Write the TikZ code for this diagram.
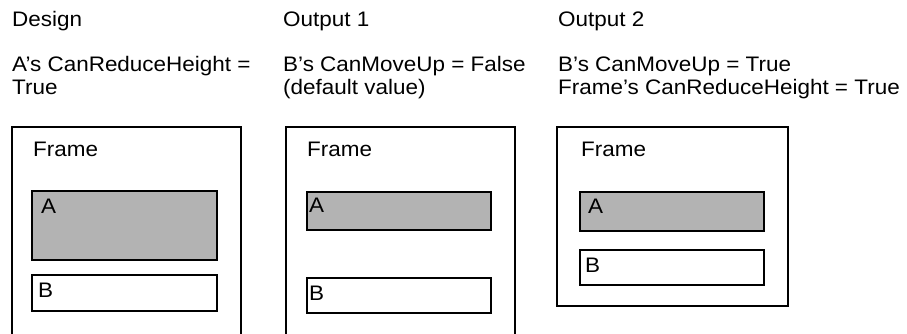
\documentclass[tikz,border=0pt]{standalone}
\usepackage{fontspec}
\setmainfont{Liberation Sans}[FakeStretch=1.07]
\begin{document}
\begin{tikzpicture}[x=1pt,y=1pt,
  lbl/.style={inner sep=0pt, anchor=base west, font=\fontsize{21}{22}\selectfont},
  frm/.style={draw=black, line width=2pt},
  boxa/.style={draw=black, line width=2pt, fill=areagray},
  boxb/.style={draw=black, line width=2pt, fill=white}]
\definecolor{areagray}{HTML}{B3B3B3}
\useasboundingbox (0,0) rectangle (907,333);
\clip (0,0) rectangle (907,333);
% headings
\node[lbl] (h1) at (12,306) {Design};
\node[lbl] (h2) at (283,306) {Output 1};
\node[lbl] (h3) at (558,306) {Output 2};
% descriptions
\node[lbl] (d1a) at (12,262) {A’s CanReduceHeight =};
\node[lbl] (d1b) at (12,239) {True};
\node[lbl] (d2a) at (283,262) {B’s CanMoveUp = False};
\node[lbl] (d2b) at (283,239) {(default value)};
\node[lbl] (d3a) at (558,262) {B’s CanMoveUp = True};
\node[lbl] (d3b) at (558,239) {Frame’s CanReduceHeight = True};
% frames
\draw[frm] (12,-5) -- (12,206) -- (241,206) -- (241,-5);
\draw[frm] (286,-5) -- (286,206) -- (515,206) -- (515,-5);
\draw[frm] (557,27) rectangle (788,206);
\node[lbl] (f1) at (33,177) {Frame};
\node[lbl] (f2) at (307,177) {Frame};
\node[lbl] (f3) at (581,177) {Frame};
% design boxes
\draw[boxa] (32,142) rectangle (217,73);
\draw[boxb] (32,58) rectangle (217,22);
\node[lbl] (a1) at (41,120) {A};
\node[lbl] (b1) at (38,36) {B};
% output 1 boxes
\draw[boxa] (307,141) rectangle (491,103);
\draw[boxb] (307,55) rectangle (491,20);
\node[lbl] (a2) at (309,121) {A};
\node[lbl] (b2) at (309,33) {B};
% output 2 boxes
\draw[boxa] (580,141) rectangle (764,102);
\draw[boxb] (580,83) rectangle (764,48);
\node[lbl] (a3) at (588,120) {A};
\node[lbl] (b3) at (585,61) {B};
\end{tikzpicture}
\end{document}
